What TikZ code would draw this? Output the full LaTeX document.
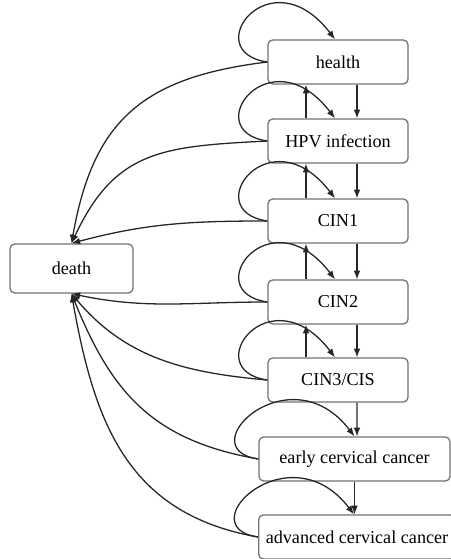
\documentclass[tikz,border=0pt]{standalone}
\usepackage{fontspec}
\setmainfont{Liberation Serif}
\usetikzlibrary{arrows.meta}
\tikzset{
statebox/.style={rectangle, rounded corners=4pt, draw=black!55, fill=white, line width=1.1pt, inner sep=0pt, minimum width=4.2cm, minimum height=1.32cm, font=\fontsize{15.5}{18}\selectfont, text=black},
widestatebox/.style={statebox, minimum width=5.73cm},
deathbox/.style={statebox, minimum width=3.69cm, minimum height=1.47cm},
transarrow/.style={line width=1.1pt, black!85, -{Latex[length=0.26cm,width=0.2cm]}},
}
\begin{document}
\begin{tikzpicture}[x=0.03cm,y=0.03cm]
        \useasboundingbox (0,0) rectangle (451,559);
        \node[statebox] at (338,497) (health) {health};
        \node[statebox] at (338,418) (hpv) {HPV infection};
        \node[statebox] at (338,338) (cinone) {CIN1};
        \node[statebox] at (338,257) (cintwo) {CIN2};
        \node[statebox] at (338,179) (cinthree) {CIN3/CIS};
        \node[widestatebox] at (354.5,100) (early) {early cervical cancer};
        \node[widestatebox, minimum width=5.9cm] at (357,22) (advanced) {advanced cervical cancer};
        \node[deathbox] at (71.5,290.5) (death) {death};
        % progression
        \draw[transarrow] ([xshift=0.57cm]health.south) -- ([xshift=0.57cm]hpv.north);
        \draw[transarrow] ([xshift=0.57cm]hpv.south) -- ([xshift=0.57cm]cinone.north);
        \draw[transarrow] ([xshift=0.57cm]cinone.south) -- ([xshift=0.57cm]cintwo.north);
        \draw[transarrow] ([xshift=0.57cm]cintwo.south) -- ([xshift=0.57cm]cinthree.north);
        \draw[transarrow] ([xshift=0.57cm]cinthree.south) -- ([xshift=0.075cm]early.north);
        \draw[transarrow] (early.south) -- ([xshift=-0.075cm]advanced.north);
        % regression
        \draw[transarrow] ([xshift=-0.96cm]hpv.north) -- ([xshift=-0.96cm]health.south);
        \draw[transarrow] ([xshift=-0.96cm]cinone.north) -- ([xshift=-0.96cm]hpv.south);
        \draw[transarrow] ([xshift=-0.96cm]cintwo.north) -- ([xshift=-0.96cm]cinone.south);
        \draw[transarrow] ([xshift=-0.96cm]cinthree.north) -- ([xshift=-0.96cm]cintwo.south);
        % staying in the same state
        \draw[transarrow] (health.west) .. controls +(-70,10) and +(-65,85) .. ([xshift=-0.09cm]health.north);
        \draw[transarrow] (hpv.west) .. controls +(-70,10) and +(-65,85) .. ([xshift=-0.09cm]hpv.north);
        \draw[transarrow] (cinone.west) .. controls +(-70,10) and +(-65,85) .. ([xshift=-0.09cm]cinone.north);
        \draw[transarrow] (cintwo.west) .. controls +(-70,10) and +(-65,85) .. ([xshift=-0.09cm]cintwo.north);
        \draw[transarrow] (cinthree.west) .. controls +(-70,10) and +(-65,85) .. ([xshift=-0.09cm]cinthree.north);
        \draw[transarrow] (early.west) .. controls +(-70,10) and +(-65,85) .. (early.north);
        \draw[transarrow] (advanced.west) .. controls +(-70,10) and +(-65,85) .. ([xshift=-0.09cm]advanced.north);
        % death
        \draw[transarrow] (health.west) to[out=187,in=80,looseness=1.2] (death.north);
        \draw[transarrow] (hpv.west) to[out=183,in=65,looseness=1.2] (death.north);
        \draw[transarrow] (cinone.west) to[out=180,in=15] (death.north);
        \draw[transarrow] (cintwo.west) to[out=180,in=-12] (death.south);
        \draw[transarrow] (cinthree.west) to[out=175,in=-50] (death.south);
        \draw[transarrow] (early.west) to[out=170,in=-68,looseness=1.1] (death.south);
        \draw[transarrow] (advanced.west) to[out=170,in=-80,looseness=1.1] (death.south);
    \end{tikzpicture}
\end{document}
